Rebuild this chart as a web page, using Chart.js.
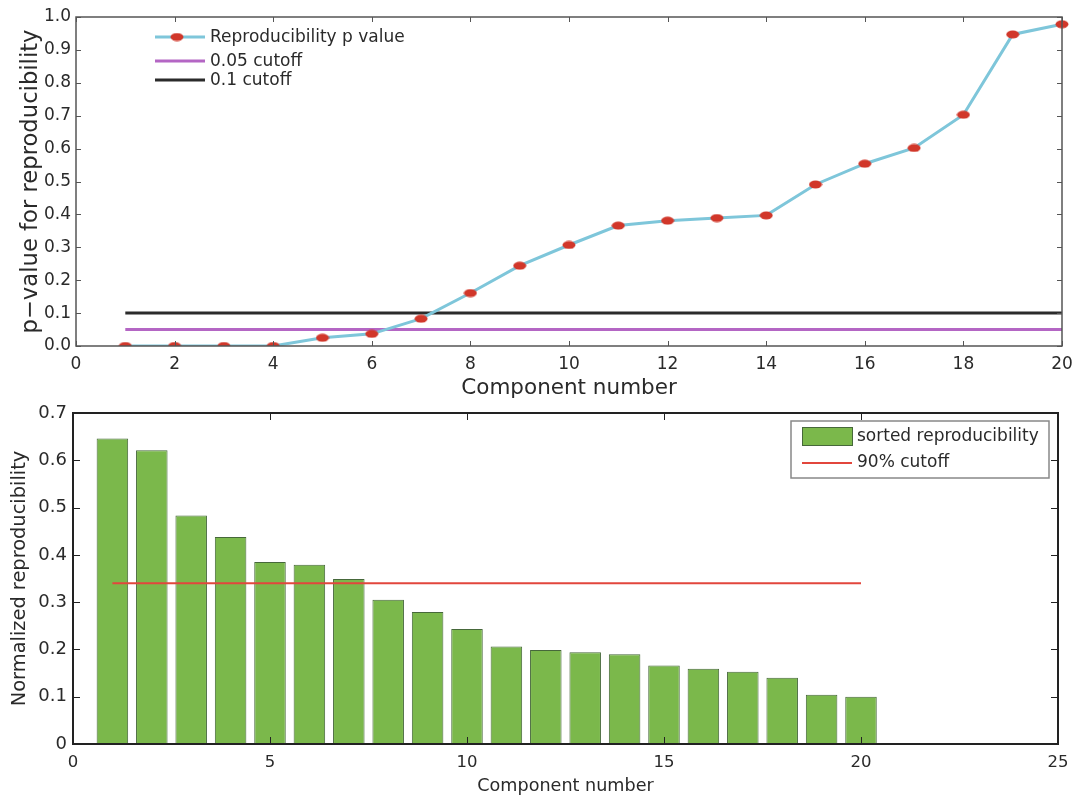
<!DOCTYPE html>
<html><head><meta charset="utf-8">
<script src="https://cdn.jsdelivr.net/npm/chart.js@4.4.1/dist/chart.umd.min.js"></script>
<style>
html,body{margin:0;padding:0;background:#fff;overflow:hidden;}
#c1{position:absolute;left:0;top:0;}
#c2{position:absolute;left:0;top:395px;}
</style></head><body>
<canvas id="c1" width="1076" height="400"></canvas>
<canvas id="c2" width="1076" height="400"></canvas>
<script>
// ---- data ----
const components = [1,2,3,4,5,6,7,8,9,10,11,12,13,14,15,16,17,18,19,20];
const pValues = [0,0,0,0,0.025,0.037,0.083,0.161,0.244,0.307,0.366,0.381,0.389,0.397,0.491,0.554,0.602,0.703,0.947,0.978];
const cutoff005 = 0.05;
const cutoff01 = 0.1;
const cutoffRange = [1, 20];
const reproducibility = [0.646,0.621,0.483,0.438,0.385,0.379,0.349,0.305,0.279,0.243,0.206,0.199,0.194,0.190,0.166,0.159,0.153,0.140,0.104,0.100];
const cutoff90 = 0.340;
const topLegendLabels = ['Reproducibility p value', '0.05 cutoff', '0.1 cutoff'];
const bottomLegendLabels = ['sorted reproducibility', '90% cutoff'];

const FONT = "'DejaVu Sans', 'Liberation Sans', Arial, sans-serif";
Chart.defaults.font.family = FONT;
Chart.defaults.color = '#2a2a2a';

function makeEllipse(w, h, color) {
  const c = document.createElement('canvas');
  c.width = w; c.height = h;
  const x = c.getContext('2d');
  x.fillStyle = color;
  x.beginPath();
  x.ellipse(w/2, h/2, w/2 - 0.5, h/2 - 0.5, 0, 0, Math.PI*2);
  x.fill();
  return c;
}
const marker = makeEllipse(14, 9, '#d1372a');

function boxAndTicks(color, lw, tl) {
  return {
    id: 'boxTicks',
    afterDraw(chart) {
      const {ctx, chartArea: a, scales} = chart;
      ctx.save();
      ctx.strokeStyle = color;
      ctx.lineWidth = 1;
      ctx.beginPath();
      scales.x.ticks.forEach(t => {
        const px = Math.round(scales.x.getPixelForValue(t.value)) + 0.5;
        ctx.moveTo(px, a.bottom); ctx.lineTo(px, a.bottom - tl);
        ctx.moveTo(px, a.top); ctx.lineTo(px, a.top + tl);
      });
      scales.y.ticks.forEach(t => {
        const py = Math.round(scales.y.getPixelForValue(t.value)) + 0.5;
        ctx.moveTo(a.left, py); ctx.lineTo(a.left + tl, py);
        ctx.moveTo(a.right, py); ctx.lineTo(a.right - tl, py);
      });
      ctx.stroke();
      ctx.lineWidth = lw;
      ctx.strokeRect(a.left, a.top, a.right - a.left, a.bottom - a.top);
      ctx.restore();
    }
  };
}

const topLegend = {
  id: 'topLegend',
  afterDraw(chart) {
    const ctx = chart.ctx;
    const ds = chart.data.datasets;
    const x0 = 155, x1 = 205, tx = 210;
    const ys = [37, 61, 80];
    ctx.save();
    ctx.font = "17px " + FONT;
    ctx.textBaseline = 'middle';
    ctx.fillStyle = '#2a2a2a';
    ds.forEach((d, i) => {
      ctx.strokeStyle = d.borderColor;
      ctx.lineWidth = 3;
      ctx.beginPath(); ctx.moveTo(x0, ys[i]); ctx.lineTo(x1, ys[i]); ctx.stroke();
      if (i === 0) ctx.drawImage(marker, (x0 + x1)/2 - marker.width/2 - 3, ys[i] - marker.height/2);
      ctx.fillText(topLegendLabels[i], tx, ys[i] + 1);
    });
    ctx.restore();
  }
};

const bottomLegend = {
  id: 'bottomLegend',
  afterDraw(chart) {
    const ctx = chart.ctx;
    const ds = chart.data.datasets;
    ctx.save();
    ctx.fillStyle = '#fff';
    ctx.fillRect(791, 26, 258, 57);
    ctx.strokeStyle = '#888';
    ctx.lineWidth = 1.5;
    ctx.strokeRect(791, 26, 258, 57);
    ctx.fillStyle = ds[0].backgroundColor;
    ctx.fillRect(802, 32, 51, 19);
    ctx.strokeStyle = ds[0].borderColor; ctx.lineWidth = 1;
    ctx.strokeRect(802.5, 32.5, 50, 18);
    ctx.strokeStyle = ds[1].borderColor; ctx.lineWidth = 2;
    ctx.beginPath(); ctx.moveTo(802, 68); ctx.lineTo(852, 68); ctx.stroke();
    ctx.font = "17px " + FONT;
    ctx.textBaseline = 'middle';
    ctx.fillStyle = '#2a2a2a';
    ctx.fillText(bottomLegendLabels[0], 857, 42);
    ctx.fillText(bottomLegendLabels[1], 857, 68);
    ctx.restore();
  }
};

new Chart(document.getElementById('c1'), {
  type: 'line',
  data: {
    datasets: [
      { label: topLegendLabels[0], data: components.map((c, i) => ({x: c, y: pValues[i]})),
        borderColor: '#7ec6da', borderWidth: 3, pointStyle: marker, pointRadius: 7,
        pointBackgroundColor: '#d1372a', pointBorderWidth: 0,
        clip: {left: false, top: false, right: false, bottom: 0} },
      { label: topLegendLabels[1], data: cutoffRange.map(x => ({x, y: cutoff005})),
        borderColor: '#b466c4', borderWidth: 3, pointRadius: 0 },
      { label: topLegendLabels[2], data: cutoffRange.map(x => ({x, y: cutoff01})),
        borderColor: '#2b2b2b', borderWidth: 3, pointRadius: 0 }
    ]
  },
  options: {
    responsive: false, animation: false, devicePixelRatio: 1,
    layout: { padding: { left: 0, right: 14, top: 17, bottom: 0 } },
    plugins: { legend: { display: false }, tooltip: { enabled: false } },
    scales: {
      x: { type: 'linear', min: 0, max: 20,
        grid: { display: false, drawTicks: false }, border: { display: false },
        ticks: { stepSize: 2, font: { size: 17 }, padding: 8, color: '#2a2a2a' },
        title: { display: true, text: 'Component number', font: { size: 21.5 }, padding: { top: 0, bottom: -1 }, color: '#2a2a2a' },
        afterFit: s => { s.height = 54; s.paddingLeft = 0; s.paddingRight = 0; } },
      y: { min: 0, max: 1,
        grid: { display: false, drawTicks: false }, border: { display: false },
        ticks: { stepSize: 0.1, font: { size: 17 }, padding: 5, color: '#2a2a2a',
          callback: v => Number(v).toFixed(1) },
        title: { display: true, text: 'p\u2212value for reproducibility', font: { size: 22.7 }, padding: { top: 17, bottom: 0 }, color: '#2a2a2a' },
        afterFit: s => { s.width = 76; } }
    }
  },
  plugins: [boxAndTicks('#555', 1.5, 5), topLegend]
});

new Chart(document.getElementById('c2'), {
  type: 'bar',
  data: {
    datasets: [
      { type: 'bar', label: bottomLegendLabels[0], data: components.map((c, i) => ({x: c, y: reproducibility[i]})),
        backgroundColor: '#7bb84b', borderColor: '#46683a', borderWidth: 1,
        barPercentage: 0.8, categoryPercentage: 1.0, order: 2 },
      { type: 'line', label: bottomLegendLabels[1], data: cutoffRange.map(x => ({x, y: cutoff90})),
        borderColor: '#e2463c', borderWidth: 2, pointRadius: 0, order: 1 }
    ]
  },
  options: {
    responsive: false, animation: false, devicePixelRatio: 1,
    layout: { padding: { left: 0, right: 18, top: 18, bottom: 0 } },
    plugins: { legend: { display: false }, tooltip: { enabled: false } },
    scales: {
      x: { type: 'linear', min: 0, max: 25, offset: false,
        grid: { display: false, offset: false, drawTicks: false }, border: { display: false },
        ticks: { stepSize: 5, font: { size: 16.5 }, padding: 9, color: '#2a2a2a' },
        title: { display: true, text: 'Component number', font: { size: 17.6 }, padding: { top: 0, bottom: -2 }, color: '#2a2a2a' },
        afterFit: s => { s.height = 51; s.paddingLeft = 0; s.paddingRight = 0; } },
      y: { min: 0, max: 0.7,
        grid: { display: false, drawTicks: false }, border: { display: false },
        ticks: { stepSize: 0.1, font: { size: 18 }, padding: 6, color: '#2a2a2a',
          callback: v => (v === 0 ? '0' : Number(v).toFixed(1)) },
        title: { display: true, text: 'Normalized reproducibility', font: { size: 19.4 }, padding: { top: 8, bottom: 0 }, color: '#2a2a2a' },
        afterFit: s => { s.width = 73; } }
    }
  },
  plugins: [boxAndTicks('#222', 2, 7), bottomLegend]
});
</script>
</body></html>
